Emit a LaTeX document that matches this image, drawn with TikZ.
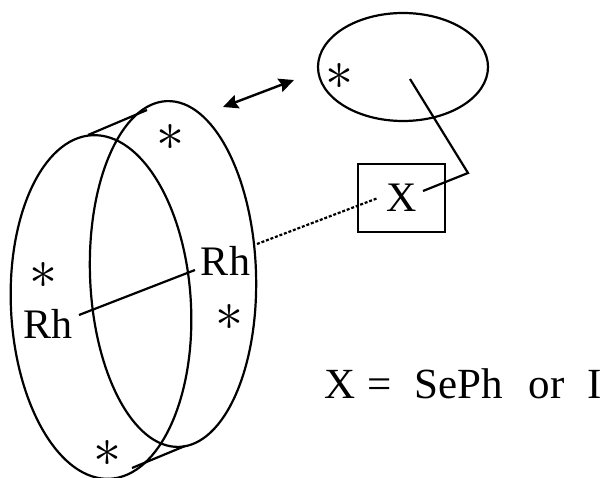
\documentclass[tikz,border=0pt]{standalone}
\usepackage{fontspec}
\setmainfont{Liberation Serif}
\usetikzlibrary{arrows.meta}
\tikzset{ln/.style={line width=2.2pt,black},
lab/.style={font=\fontsize{42}{44}\selectfont,inner sep=0pt,anchor=base},
star/.style={inner sep=0pt}}
\newcommand{\bigast}{\fontsize{10}{10}\selectfont\scalebox{5.6}{$\ast$}}
\begin{document}
\begin{tikzpicture}[x=1pt,y=-1pt]
\useasboundingbox (0,0) rectangle (605,478);
\begin{scope}
\clip (0,0) rectangle (605,478);
\draw[ln,rotate around={3:(101,307)}] (101,307) ellipse [x radius=90,y radius=172];
\draw[ln,rotate around={2:(173,274)}] (173,274) ellipse [x radius=83,y radius=173];
\end{scope}
\coordinate (t1) at (88,135); \coordinate (t2) at (147,110);
\coordinate (b1) at (132,468); \coordinate (b2) at (185,446);
\draw[ln] (t1) -- (t2);
\draw[ln] (b1) -- (b2);
\draw[ln] (403,67) ellipse [x radius=85,y radius=54];
\node[draw,line width=2.2pt,minimum width=87,minimum height=68,inner sep=0pt] (x) at (401.5,198) {};
\node[lab] (xl) at (402,212) {X};
\coordinate (k1) at (410,79); \coordinate (k2) at (468,173); \coordinate (k3) at (423,191);
\draw[ln] (k1) -- (k2) -- (k3);
\coordinate (d1) at (257,244); \coordinate (d2) at (378,198);
\draw[line width=2.2pt,dash pattern=on 3pt off 1.8pt] (d1) -- (d2);
\coordinate (a1) at (223,107); \coordinate (a2) at (294,80);
\draw[line width=2.4pt,{Stealth[inset=2pt,length=15pt,width=14pt]}-{Stealth[inset=2pt,length=15pt,width=14pt]}] (a1) -- (a2);
\node[lab] (rh1) at (225.5,276) {Rh};
\node[lab] (rh2) at (48,338) {Rh};
\coordinate (r2) at (79,315); \coordinate (r1) at (195,270);
\draw[ln] (r2) -- (r1);
\node[star] (s1) at (43,275) {\bigast};
\node[star] (s2) at (170,137) {\bigast};
\node[star] (s3) at (229,317) {\bigast};
\node[star] (s4) at (107,453) {\bigast};
\node[star] (s5) at (339,76) {\bigast};
\node[lab,font=\fontsize{43}{45}\selectfont,anchor=base west] (eq) at (324,398) {X\hspace{12pt}=\hspace{23pt}SePh\hspace{26pt}or\hspace{23pt}I};
\end{tikzpicture}
\end{document}
